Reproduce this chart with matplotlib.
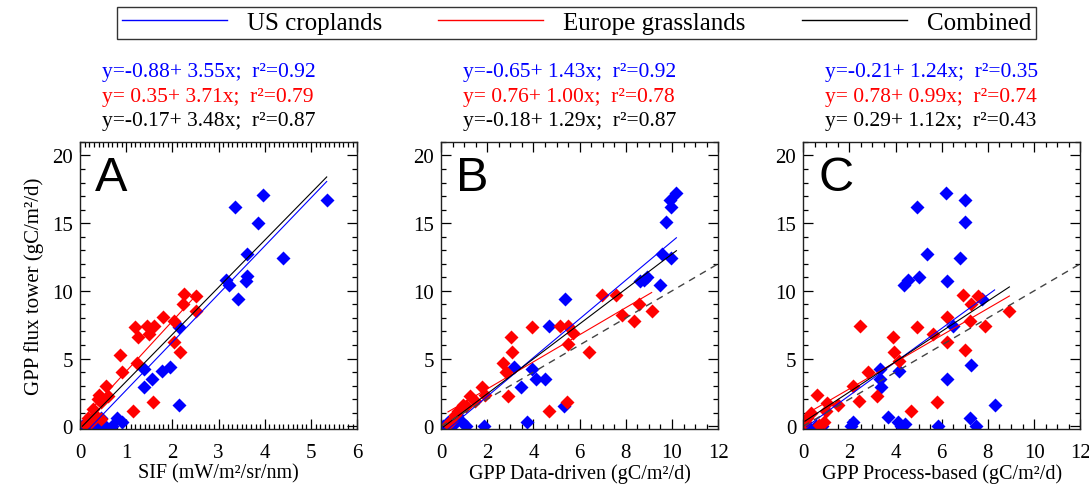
import numpy as np
import matplotlib
matplotlib.use('Agg')
from matplotlib import pyplot as plt
from matplotlib.lines import Line2D
from matplotlib.ticker import MultipleLocator

plt.rcParams['font.family'] = ['Liberation Serif', 'DejaVu Serif']

# panel A: SIF vs tower GPP
a_us_x = [5.34, 3.96, 3.36, 3.86, 4.39, 3.61, 3.16, 3.22, 3.61, 3.59, 3.41, 2.14, 1.39, 1.38, 1.56,
          1.77, 1.95, 2.14, 0.05, 0.15, 0.3, 0.45, 0.55, 0.8, 0.9, 0.7, 0.4]
a_us_y = [16.7, 17.1, 16.2, 15.0, 12.4, 12.7, 10.8, 10.4, 11.1, 10.7, 9.4, 7.3, 4.2, 2.9, 3.5,
          4.1, 4.4, 1.6, 0.0, 0.0, 0.1, 0.6, 0.0, 0.6, 0.3, 0.0, 0.0]
a_eu_x = [2.24, 2.52, 2.22, 2.52, 1.79, 2.04, 1.19, 1.45, 1.61, 1.5, 1.26, 0.86, 0.91, 1.24, 2.04,
          2.16, 1.59, 1.15, 0.56, 0.41, 0.6, 0.45, 0.38, 0.27, 0.33, 0.17, 0.24, 0.1, 0.45]
a_eu_y = [9.8, 9.6, 9.0, 8.5, 8.1, 7.8, 7.3, 7.4, 7.4, 6.8, 6.6, 5.3, 4.0, 4.7, 6.2,
          5.5, 1.8, 1.1, 3.0, 2.3, 2.2, 1.8, 2.0, 1.3, 0.8, 0.6, 0.3, 0.2, 0.5]

# panel B: data-driven GPP vs tower GPP
b_us_x = [10.19, 9.93, 9.96, 9.73, 9.57, 9.96, 9.5, 8.62, 8.9, 8.8, 5.37, 4.69, 3.16, 3.45, 3.95,
          4.09, 4.49, 5.34, 3.73, 0.1, 0.3, 0.5, 0.7, 0.9, 1.1, 1.84, 0.6]
b_us_y = [17.2, 16.7, 16.2, 15.1, 12.7, 12.4, 10.4, 10.7, 11.0, 10.8, 9.4, 7.4, 4.4, 2.9, 4.2,
          3.5, 3.5, 1.5, 0.3, 0.0, 0.3, 0.1, 0.8, 0.3, 0.0, 0.0, 0.5]
b_eu_x = [7.58, 6.98, 8.58, 9.12, 7.83, 8.36, 5.73, 5.48, 5.16, 5.48, 6.4, 3.92, 3.05, 3.06, 2.69,
          2.81, 2.92, 4.66, 5.47, 1.78, 1.92, 1.24, 1.45, 1.1, 0.95, 0.75, 0.6, 0.45, 0.3]
b_eu_y = [9.7, 9.7, 9.0, 8.5, 8.2, 7.8, 6.9, 7.4, 7.4, 6.1, 5.5, 7.3, 6.6, 5.5, 4.7,
          4.0, 2.2, 1.1, 1.8, 2.9, 2.3, 2.2, 1.9, 1.5, 1.6, 1.1, 0.8, 0.4, 0.2]

# panel C: process-based GPP vs tower GPP
c_us_x = [6.17, 7.0, 4.94, 7.0, 5.38, 6.81, 5.03, 6.24, 4.52, 4.36, 7.76, 6.48, 6.21, 7.26, 3.32,
          3.32, 3.35, 4.17, 8.29, 3.66, 7.24, 5.84, 4.1, 4.4, 4.25, 2.18, 2.07, 7.48, 0.15, 0.55, 0.8]
c_us_y = [17.2, 16.7, 16.2, 15.1, 12.7, 12.4, 11.0, 10.7, 10.8, 10.4, 9.4, 7.4, 3.5, 4.5, 4.2,
          3.5, 2.9, 4.1, 1.6, 0.7, 0.6, 0.05, 0.3, 0.2, 0.0, 0.3, 0.0, 0.0, 0.0, 0.0, 0.0]
c_eu_x = [6.91, 7.55, 7.26, 8.93, 6.23, 7.22, 7.86, 4.91, 5.63, 2.45, 3.87, 3.92, 4.13, 6.23, 7.0,
          2.82, 2.17, 2.42, 3.18, 4.66, 5.81, 0.6, 1.03, 1.5, 0.35, 0.17, 0.08, 1.0, 0.92, 0.7]
c_eu_y = [9.7, 9.6, 9.0, 8.5, 8.1, 7.8, 7.4, 7.3, 6.8, 7.4, 6.6, 5.5, 4.8, 6.2, 5.6,
          4.0, 3.0, 1.9, 2.2, 1.1, 1.8, 2.3, 1.7, 1.6, 1.0, 0.6, 0.3, 1.1, 0.3, 0.1]

# fit coefficients (intercept, slope, r2) for US, Europe, combined
a_fit = [(-0.88, 3.55, 0.92), (0.35, 3.71, 0.79), (-0.17, 3.48, 0.87)]
b_fit = [(-0.65, 1.43, 0.92), (0.76, 1.00, 0.78), (-0.18, 1.29, 0.87)]
c_fit = [(-0.21, 1.24, 0.35), (0.78, 0.99, 0.74), (0.29, 1.12, 0.43)]

letters = ['A', 'B', 'C']
xlabels = ['SIF (mW/m\u00b2/sr/nm)', 'GPP Data-driven (gC/m\u00b2/d)', 'GPP Process-based (gC/m\u00b2/d)']
legend_labels = ['US croplands', 'Europe grasslands', 'Combined']

blue = '#0000ff'
red = '#ff0000'

fig = plt.figure(figsize=(10.89, 4.89), dpi=100)
lefts = [0.0735, 0.405, 0.7375]
axes = [fig.add_axes([l, 0.1207, 0.2545, 0.587]) for l in lefts]

panels = [(a_us_x, a_us_y, a_eu_x, a_eu_y, a_fit),
          (b_us_x, b_us_y, b_eu_x, b_eu_y, b_fit),
          (c_us_x, c_us_y, c_eu_x, c_eu_y, c_fit)]

for i, ax in enumerate(axes):
    usx, usy, eux, euy, fit = panels[i]
    ax.plot(usx, usy, 'D', color=blue, ms=7.4, mec='none')
    ax.plot(eux, euy, 'D', color=red, ms=7.4, mec='none')

    # regression lines over the data range
    allx = usx + eux
    ranges = [(min(usx), max(usx)), (min(eux), max(eux)), (min(allx), max(allx))]
    for (b0, b1, r2), (x0, x1), col in zip(fit, ranges, [blue, red, 'black']):
        xx = np.array([x0, x1])
        ax.plot(xx, b0 + b1 * xx, color=col, lw=0.8)

    if i > 0:
        ax.plot([0, 12], [0, 12], '--', color='#444444', lw=1, dashes=(5, 4))
        ax.set_xlim(0, 12)
        ax.xaxis.set_major_locator(MultipleLocator(2))
        ax.xaxis.set_minor_locator(MultipleLocator(0.5))
    else:
        ax.set_xlim(0, 6)
        ax.xaxis.set_major_locator(MultipleLocator(1))
        ax.xaxis.set_minor_locator(MultipleLocator(0.1))
    ax.set_ylim(-0.2, 21)
    ax.yaxis.set_major_locator(MultipleLocator(5))
    ax.yaxis.set_minor_locator(MultipleLocator(1))

    ax.tick_params(which='both', direction='in', top=True, right=True, labelsize=15, width=0.9)
    ax.tick_params(which='major', length=7)
    ax.tick_params(which='minor', length=3.5)
    ax.tick_params(axis='x', which='major', pad=10)
    ax.tick_params(axis='y', which='major', pad=5)
    for s in ax.spines.values():
        s.set_linewidth(1)
        s.set_color('#222222')

    ax.set_xlabel(xlabels[i], fontsize=14.5, labelpad=1)
    ax.text(0.054, 0.955, letters[i], transform=ax.transAxes, fontsize=35,
            family='Liberation Sans', va='top', ha='left')

    for (b0, b1, r2), col, yy in zip(fit, [blue, red, 'black'], [1.247, 1.160, 1.073]):
        sign = '-' if b0 < 0 else ' '
        txt = 'y=%s%.2f+ %.2fx;  r\u00b2=%.2f' % (sign, abs(b0), b1, r2)
        ax.text(0.08, yy, txt, transform=ax.transAxes, color=col, fontsize=15.5,
                va='center', ha='left', clip_on=False)

axes[0].set_ylabel('GPP flux tower (gC/m\u00b2/d)', fontsize=15, labelpad=6)

handles = [Line2D([], [], color=c, lw=1) for c in [blue, red, 'black']]
leg = fig.legend(handles, legend_labels, loc='lower left', ncol=3, mode='expand',
                 bbox_to_anchor=(117 / 1089, 1 - 40 / 489, 919 / 1089, 37 / 489),
                 fontsize=18, handlelength=4.2, frameon=True, fancybox=False,
                 borderaxespad=0, borderpad=0.2, handletextpad=0.8)
leg.get_frame().set_edgecolor('black')
leg.get_frame().set_linewidth(1)

fig.savefig('out.png', dpi=100)
